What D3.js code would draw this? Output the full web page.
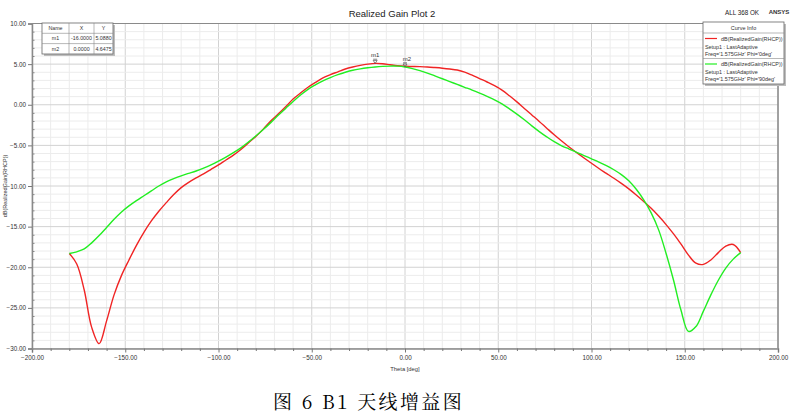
<!DOCTYPE html>
<html><head><meta charset="utf-8">
<script src="https://cdn.jsdelivr.net/npm/d3@7/dist/d3.min.js"></script>
<style>body{margin:0;background:#fff}svg{display:block}</style>
</head><body><svg id="c" width="809" height="415"></svg>
<script>
const theta = d3.range(-180, 181, 4);
const gainPhi0 = [-18.3,-19.6,-22.8,-27.4,-29.4,-26.6,-23.4,-21.0,-19.1,-17.3,-15.7,-14.3,-13.1,-12.05,-11.05,-10.2,-9.55,-9.0,-8.5,-7.95,-7.4,-6.8,-6.2,-5.5,-4.7,-3.9,-3.0,-2.0,-1.15,-0.25,0.7,1.45,2.15,2.75,3.3,3.7,4.05,4.4,4.65,4.85,5.0,5.09,5.05,4.92,4.8,4.73,4.71,4.69,4.65,4.58,4.5,4.4,4.27,4.02,3.64,3.22,2.8,2.35,1.8,1.1,0.35,-0.45,-1.25,-2.05,-2.88,-3.7,-4.47,-5.2,-5.88,-6.55,-7.2,-7.85,-8.45,-9.05,-9.68,-10.35,-11.1,-11.9,-12.75,-13.7,-14.75,-15.9,-17.15,-18.5,-19.5,-19.65,-19.1,-18.2,-17.4,-17.2,-18.2];
const gainPhi90 = [-18.3,-18.1,-17.75,-17.0,-16.1,-15.1,-14.1,-13.2,-12.45,-11.8,-11.2,-10.6,-10.0,-9.5,-9.1,-8.75,-8.45,-8.15,-7.8,-7.4,-6.95,-6.45,-5.9,-5.3,-4.6,-3.85,-3.05,-2.2,-1.3,-0.45,0.4,1.2,1.9,2.45,2.95,3.35,3.7,4.0,4.25,4.42,4.55,4.65,4.72,4.76,4.75,4.65,4.45,4.2,3.9,3.55,3.2,2.85,2.5,2.15,1.8,1.42,1.02,0.6,0.1,-0.5,-1.15,-1.85,-2.6,-3.3,-3.95,-4.55,-5.05,-5.45,-5.85,-6.25,-6.65,-7.05,-7.5,-8.0,-8.6,-9.35,-10.4,-11.7,-13.3,-15.4,-18.3,-21.6,-25.3,-27.9,-27.3,-25.4,-23.4,-21.6,-20.1,-19.0,-18.2];
const xTicks = [-200,-150,-100,-50,0,50,100,150,200];
const yTicks = [10,5,0,-5,-10,-15,-20,-25,-30];
const markerNames = ["m1","m2"];
const markerX = [-16, 0];
const markerY = [5.0880, 4.6475];
const legendCurves = ["dB(RealizedGain(RHCP))","dB(RealizedGain(RHCP))"];
const legendSetup = ["Setup1 : LastAdaptive","Setup1 : LastAdaptive"];
const legendFreq = ["Freq='1.575GHz' Phi='0deg'","Freq='1.575GHz' Phi='90deg'"];
const colors = ["#f02424","#22ee22"];

const svg = d3.select("#c");
const F = "Arial, 'Liberation Sans', sans-serif";
const L = 32, R = 778, T = 23.5, B = 348.5;
const x = d3.scaleLinear().domain([-200,200]).range([L,R]);
const y = d3.scaleLinear().domain([-30,10]).range([B,T]);

// grid
const g = svg.append("g");
d3.range(-200,201,10).forEach(v=>{
  g.append("line").attr("x1",x(v)).attr("x2",x(v)).attr("y1",T).attr("y2",B)
   .attr("stroke", v%50===0 ? "#d2d2d2" : "#ececec").attr("stroke-width",1);
});
d3.range(-30,11,1).forEach(v=>{
  g.append("line").attr("x1",L).attr("x2",R).attr("y1",y(v)).attr("y2",y(v))
   .attr("stroke", v%5===0 ? "#d2d2d2" : "#ececec").attr("stroke-width",1);
});
// frame
svg.append("line").attr("x1",L).attr("x2",R).attr("y1",T).attr("y2",T).attr("stroke","#8a8a8a");
svg.append("line").attr("x1",R).attr("x2",R).attr("y1",T).attr("y2",B).attr("stroke","#8a8a8a").attr("stroke-width",1.5);

// axes
const xAxis = d3.axisBottom(x).tickValues(xTicks).tickFormat(d3.format(".2f")).tickSize(4).tickPadding(3);
const xa = svg.append("g").attr("transform",`translate(0,${B})`).call(xAxis);
xa.select(".domain").attr("stroke","#8a8a8a").attr("stroke-width",1.5);
xa.selectAll(".tick line").attr("stroke","#777");
xa.selectAll("text").attr("font-family",F).attr("font-size","6.3px").attr("fill","#333");
const xMinor = d3.axisBottom(x).tickValues(d3.range(-200,201,10).filter(v=>v%50!==0)).tickSize(2.5).tickFormat("");
const xm = svg.append("g").attr("transform",`translate(0,${B})`).call(xMinor);
xm.select(".domain").remove(); xm.selectAll(".tick line").attr("stroke","#777");

const yAxis = d3.axisLeft(y).tickValues(yTicks).tickFormat(d3.format(".2f")).tickSize(4).tickPadding(2);
const ya = svg.append("g").attr("transform",`translate(${L},0)`).call(yAxis);
ya.select(".domain").attr("stroke","#8a8a8a").attr("stroke-width",1.5);
ya.selectAll(".tick line").attr("stroke","#777");
ya.selectAll("text").attr("font-family",F).attr("font-size","6.3px").attr("fill","#333");
const yMinor = d3.axisRight(y).tickValues(d3.range(-30,11,1).filter(v=>v%5!==0)).tickSize(2.5).tickFormat("");
const ym = svg.append("g").attr("transform",`translate(${L},0)`).call(yMinor);
ym.select(".domain").remove(); ym.selectAll(".tick line").attr("stroke","#888");

// curves
const line = d3.line().x(d=>x(d[0])).y(d=>y(d[1])).curve(d3.curveCatmullRom.alpha(0.5));
[gainPhi0, gainPhi90].forEach((s,i)=>{
  svg.append("path").datum(theta.map((t,k)=>[t,s[k]]))
    .attr("d",line).attr("fill","none").attr("stroke",colors[i]).attr("stroke-width",1.4);
});

// markers
markerNames.forEach((m,i)=>{
  const mx = x(markerX[i]), my = y(markerY[i]);
  svg.append("path").attr("d",`M${mx-2},${my-3}L${mx+2},${my-3}L${mx},${my}Z M${mx-2},${my-4.2}L${mx+2},${my-4.2}`)
    .attr("fill","none").attr("stroke","#555").attr("stroke-width",0.7);
  svg.append("text").attr("x",mx+(i?2:0)).attr("y",my-6).attr("text-anchor","middle")
    .attr("font-family",F).attr("font-size","6px").attr("fill","#333").text(m);
});

// titles
svg.append("text").attr("x",392).attr("y",16.5).attr("text-anchor","middle").attr("font-family",F)
  .attr("font-size","9.5px").attr("fill","#222").text("Realized Gain Plot 2");
svg.append("text").attr("x",742).attr("y",15).attr("text-anchor","middle").attr("font-family",F)
  .attr("font-size","6.3px").attr("fill","#222").text("ALL 368 OK");
svg.append("text").attr("x",779).attr("y",14).attr("text-anchor","middle").attr("font-family",F)
  .attr("font-size","6px").attr("font-weight","bold").attr("fill","#333").text("ANSYS");
svg.append("text").attr("transform","translate(7,186) rotate(-90)").attr("text-anchor","middle")
  .attr("font-family",F).attr("font-size","5.5px").attr("fill","#333").text("dB(RealizedGain(RHCP))");
svg.append("text").attr("x",405).attr("y",371).attr("text-anchor","middle")
  .attr("font-family",F).attr("font-size","5.8px").attr("fill","#333").text("Theta [deg]");

// marker table
const tb = svg.append("g");
const tx = 42, ty = 23, cw = [27,25,19], rh = 10.3;
tb.append("rect").attr("x",tx+2).attr("y",ty+2).attr("width",71).attr("height",31).attr("fill","#bdbdbd");
tb.append("rect").attr("x",tx).attr("y",ty).attr("width",71).attr("height",31).attr("fill","#fff").attr("stroke","#666").attr("stroke-width",0.8);
const rows = [["Name","X","Y"]].concat(markerNames.map((m,i)=>[m, markerX[i].toFixed(4), markerY[i].toFixed(4)]));
rows.forEach((r,ri)=>{
  let cx = tx;
  r.forEach((c,ci)=>{
    tb.append("text").attr("x",cx+cw[ci]/2).attr("y",ty+rh*ri+7).attr("text-anchor","middle")
      .attr("font-family",F).attr("font-size","5.3px").attr("fill","#333").text(c);
    cx += cw[ci];
  });
  if(ri>0) tb.append("line").attr("x1",tx).attr("x2",tx+71).attr("y1",ty+rh*ri).attr("y2",ty+rh*ri).attr("stroke","#888").attr("stroke-width",0.6);
});
[tx+cw[0], tx+cw[0]+cw[1]].forEach(v=>tb.append("line").attr("x1",v).attr("x2",v).attr("y1",ty).attr("y2",ty+31).attr("stroke","#888").attr("stroke-width",0.6));

// legend
const lg = svg.append("g");
const lx = 703, ly = 22, lw = 81, lh = 62;
lg.append("rect").attr("x",lx+2).attr("y",ly+2).attr("width",lw).attr("height",lh).attr("fill","#bdbdbd");
lg.append("rect").attr("x",lx).attr("y",ly).attr("width",lw).attr("height",lh).attr("fill","#fff").attr("stroke","#666").attr("stroke-width",0.8);
lg.append("text").attr("x",lx+lw/2).attr("y",ly+8).attr("text-anchor","middle").attr("font-family",F)
  .attr("font-size","5.5px").attr("fill","#333").text("Curve Info");
lg.append("line").attr("x1",lx).attr("x2",lx+lw).attr("y1",ly+11).attr("y2",ly+11).attr("stroke","#888").attr("stroke-width",0.6);
legendCurves.forEach((c,i)=>{
  const oy = ly + 11 + i*25.5;
  lg.append("line").attr("x1",lx+2).attr("x2",lx+14).attr("y1",oy+5.5).attr("y2",oy+5.5).attr("stroke",colors[i]).attr("stroke-width",1.2);
  lg.append("text").attr("x",lx+lw-1.5).attr("y",oy+7.5).attr("text-anchor","end").attr("font-family",F)
    .attr("font-size","5.4px").attr("fill","#333").text(c);
  lg.append("text").attr("x",lx+2).attr("y",oy+15.5).attr("font-family",F).attr("font-size","5.4px").attr("fill","#333").text(legendSetup[i]);
  lg.append("text").attr("x",lx+2).attr("y",oy+22.5).attr("font-family",F).attr("font-size","5.4px").attr("fill","#333").text(legendFreq[i]);
  if(i===0) lg.append("line").attr("x1",lx).attr("x2",lx+lw).attr("y1",oy+25.5).attr("y2",oy+25.5).attr("stroke","#888").attr("stroke-width",0.6);
});

// caption
svg.append("text").attr("x",273).attr("y",409).attr("font-family","'Noto Serif CJK SC','Noto Sans CJK SC',serif")
  .attr("font-size","19px").attr("letter-spacing","2.4px").attr("fill","#000").attr("xml:space","preserve").text("图 6 B1 天线增益图");
</script></body></html>
